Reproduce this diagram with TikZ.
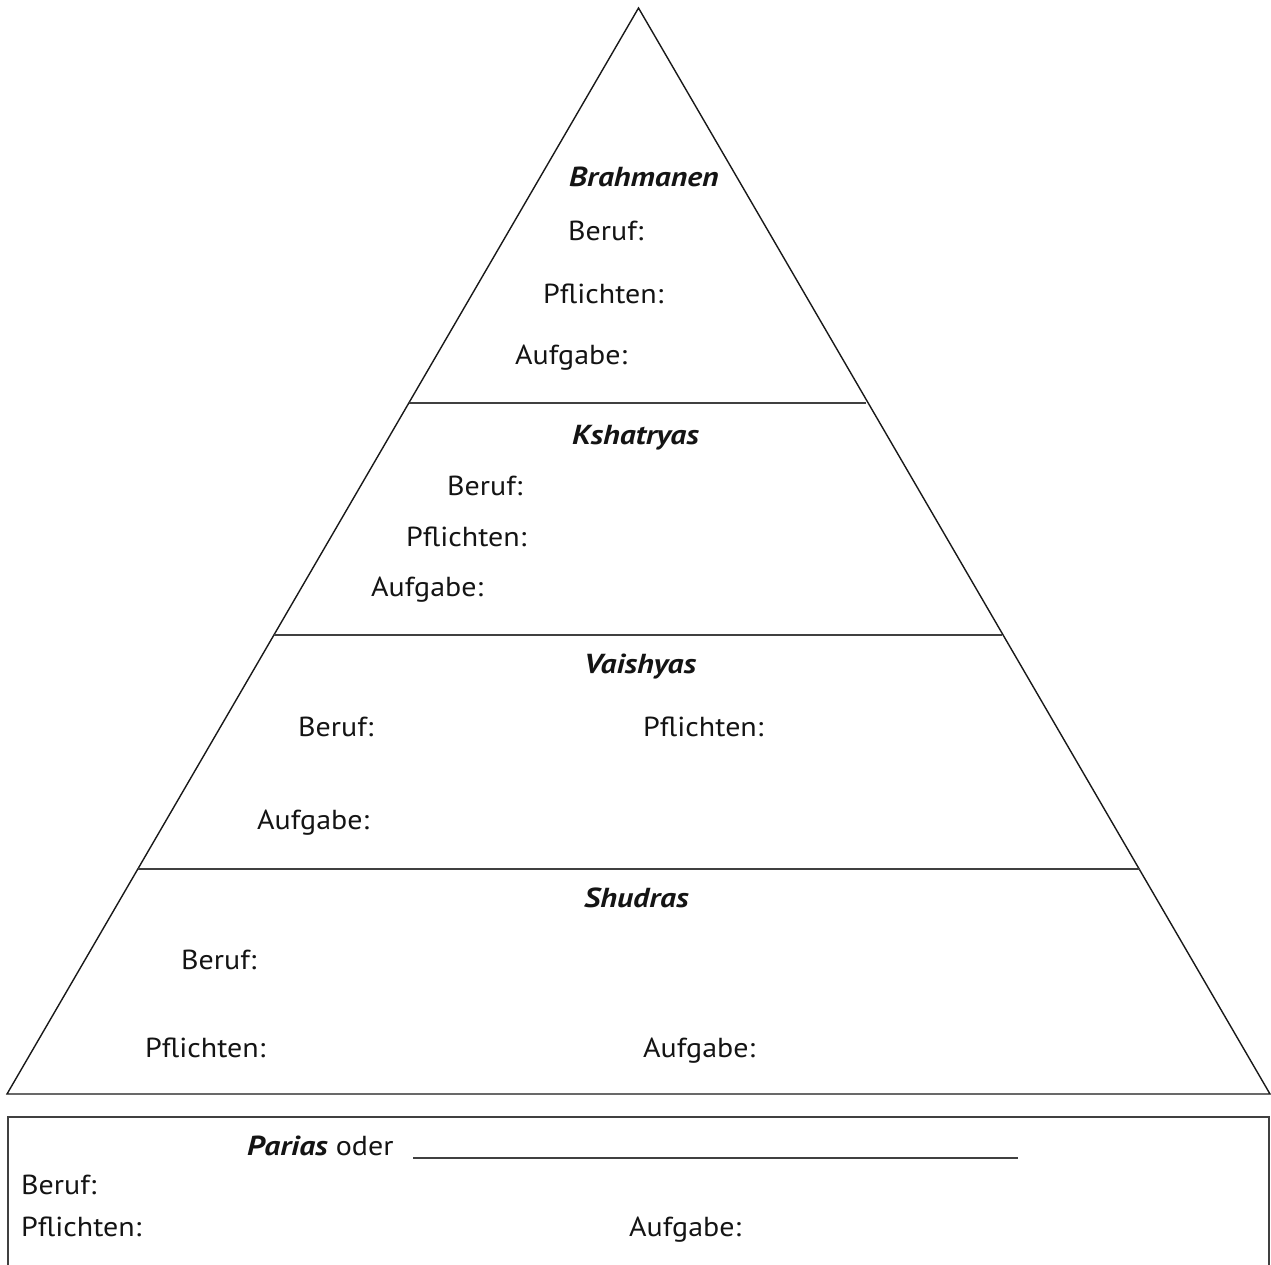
\documentclass[tikz,border=0pt]{standalone}
\usepackage{fontspec}
\setmainfont{PT Sans}[FakeStretch=1.09,BoldItalicFeatures={FakeStretch=1.15}]
\begin{document}
\begin{tikzpicture}[x=1pt,y=-1pt,
  edge/.style={line width=1.4pt,draw=black!90},
  sep/.style={line width=1.6pt,draw=black!75},
  lbl/.style={anchor=base west,inner sep=0pt,font=\fontsize{27.5}{32}\selectfont,text=black!92},
  head/.style={lbl,font=\fontsize{27.5}{32}\selectfont\bfseries\itshape}]
\useasboundingbox (0,0) rectangle (1271,1265);
% pyramid
\coordinate (apex) at (638.5,8);
\coordinate (bl) at (7,1094);
\coordinate (br) at (1270,1094);
\draw[edge,line join=miter] (bl) -- (apex) -- (br) -- cycle;
\coordinate (l1a) at (409,403); \coordinate (l1b) at (866,403);
\coordinate (l2a) at (274,635); \coordinate (l2b) at (1002,635);
\coordinate (l3a) at (138,869); \coordinate (l3b) at (1140,869);
\draw[sep] (l1a) -- (l1b);
\draw[sep] (l2a) -- (l2b);
\draw[sep] (l3a) -- (l3b);
% Brahmanen
\node[head] (brT) at (569,187) {Brahmanen};
\node[lbl] (brB) at (568,241) {Beruf:};
\node[lbl] (brP) at (543,303) {Pflichten:};
\node[lbl] (brA) at (515,364) {Aufgabe:};
% Kshatryas
\node[head] (ksT) at (572,444) {Kshatryas};
\node[lbl] (ksB) at (447,495) {Beruf:};
\node[lbl] (ksP) at (406,546) {Pflichten:};
\node[lbl] (ksA) at (371,596) {Aufgabe:};
% Vaishyas
\node[head] (vaT) at (584,673) {Vaishyas};
\node[lbl] (vaB) at (298,736) {Beruf:};
\node[lbl] (vaP) at (643,736) {Pflichten:};
\node[lbl] (vaA) at (257,829) {Aufgabe:};
% Shudras
\node[head] (shT) at (584,907) {Shudras};
\node[lbl] (shB) at (181,969) {Beruf:};
\node[lbl] (shP) at (145,1057) {Pflichten:};
\node[lbl] (shA) at (643,1057) {Aufgabe:};
% Parias box
\coordinate (bx1) at (8,1265); \coordinate (bx2) at (8,1117);
\coordinate (bx3) at (1269,1117); \coordinate (bx4) at (1269,1265);
\draw[edge,draw=black!75] (bx1) -- (bx2) -- (bx3) -- (bx4);
\node[lbl] (paT) at (247,1155) {\textbf{\textit{Parias}} oder};
\coordinate (ul1) at (413,1158); \coordinate (ul2) at (1018,1158);
\draw[sep] (ul1) -- (ul2);
\node[lbl] (paB) at (21,1194) {Beruf:};
\node[lbl] (paP) at (21,1236) {Pflichten:};
\node[lbl] (paA) at (629,1236) {Aufgabe:};
\end{tikzpicture}
\end{document}
